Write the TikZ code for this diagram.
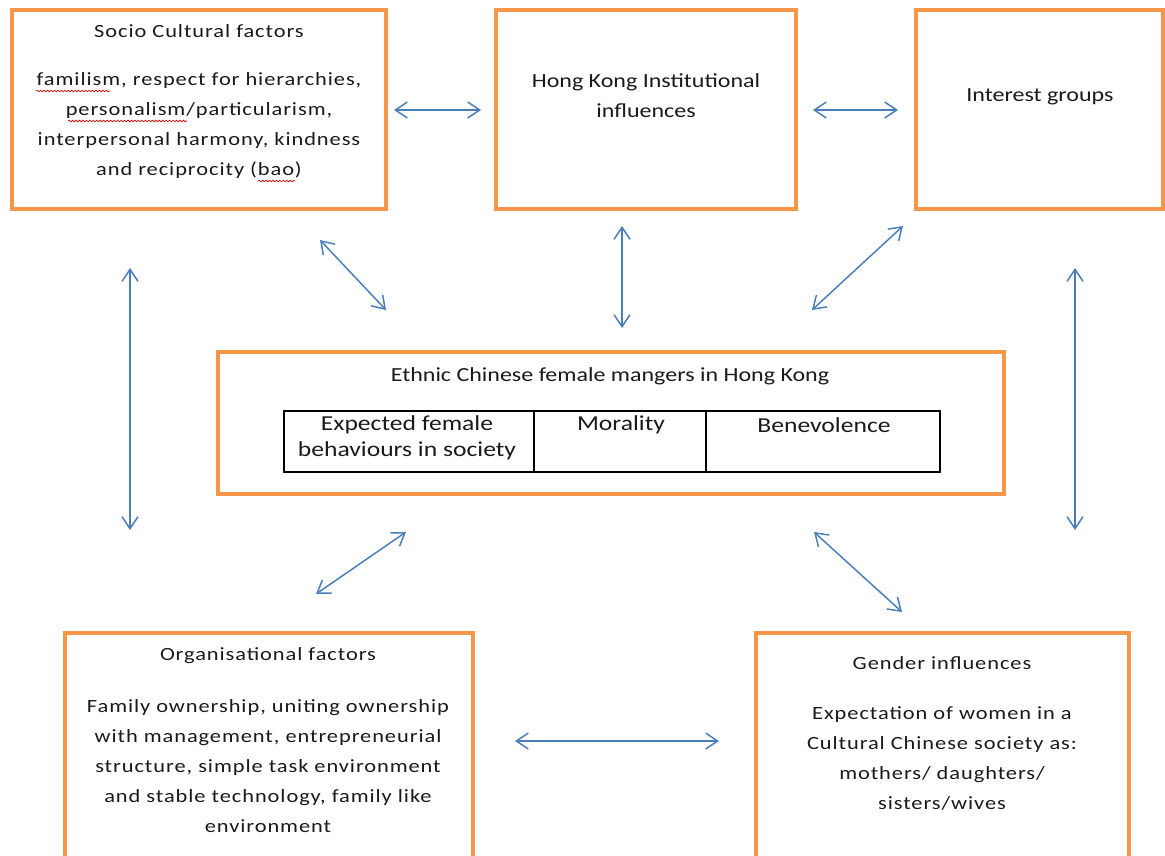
\documentclass[tikz,border=0pt]{standalone}
\usepackage{fontspec}
\setmainfont{Carlito}[FakeStretch=1.2]
\newfontfamily\widefont{Carlito}[FakeStretch=1.2,LetterSpace=5]
\usetikzlibrary{arrows.meta}
\usetikzlibrary{decorations.pathmorphing}
\definecolor{boxorange}{HTML}{F79646}
\definecolor{linkblue}{HTML}{4A7EBB}
\definecolor{inkgray}{HTML}{1A1A1A}

\begin{document}
\begin{tikzpicture}[x=0.75pt,y=-0.75pt,
  frame/.style={draw=boxorange,line width=2.6pt,inner sep=0pt},
  cell/.style={draw=black,line width=0.8pt,inner sep=0pt,minimum height=45.75pt},
  link/.style={linkblue,line width=1.1pt,{Straight Barb[length=9pt,width=12pt]}-{Straight Barb[length=9pt,width=12pt]}},
  txt/.style={text=inkgray,align=center,font=\fontsize{14}{22.5}\selectfont\widefont},
  plain/.style={text=inkgray,align=center,font=\fontsize{15}{22.5}\selectfont},
  celltxt/.style={text=inkgray,align=center,font=\fontsize{16}{19.5}\selectfont},
  spell/.style={red!85!black,line width=0.5pt,decorate,decoration={snake,amplitude=0.6pt,segment length=2.6pt}}]

\useasboundingbox (0,0) rectangle (1165,856);

% boxes
\node (socio) [frame,minimum width=280.5pt,minimum height=149.25pt] at (199,109.5) {};
\node (hk) [frame,minimum width=225pt,minimum height=149.25pt] at (646,109.5) {};
\node (interest) [frame,minimum width=185.25pt,minimum height=149.25pt] at (1039.5,109.5) {};
\node (mgr) [frame,minimum width=589.5pt,minimum height=106.5pt] at (611,423) {};
\node (org) [frame,minimum width=306pt,minimum height=168.75pt] at (269,745.5) {};
\node (gender) [frame,minimum width=279.75pt,minimum height=168.75pt] at (942.5,745.5) {};

% table inside the centre box
\node (cellA) [cell,minimum width=187.5pt] at (409,441.5) {};
\node (cellB) [cell,minimum width=129pt] at (620,441.5) {};
\node (cellC) [cell,minimum width=175.5pt] at (823,441.5) {};

% texts
\node (sociohead) [txt] at (199,31) {Socio Cultural factors};
\node (sociobody) [txt] at (199,125.5) {familism, respect for hierarchies,\\personalism/particularism,\\interpersonal harmony, kindness\\and reciprocity (bao)};
\node (hktext) [plain] at (646,96) {Hong Kong Institutional\\influences};
\node (interesttext) [plain] at (1040,97) {Interest groups};
\node (mgrtext) [plain] at (610,376) {Ethnic Chinese female mangers in Hong Kong};
\node (cellAtext) [celltxt] at (407,438) {Expected female\\behaviours in society};
\node (cellBtext) [celltxt] at (621,425) {Morality};
\node (cellCtext) [celltxt] at (824,425) {Benevolence};
\node (orghead) [txt] at (268,656) {Organisational factors};
\node (orgbody) [txt] at (268,766) {Family ownership, uniting ownership\\with management, entrepreneurial\\structure, simple task environment\\and stable technology, family like\\environment};
\node (genderhead) [txt] at (942,663) {Gender influences};
\node (genderbody) [txt] at (942,758) {Expectation of women in a\\Cultural Chinese society as:\\mothers/ daughters/\\sisters/wives};

% spelling marks
\draw[spell] (36,91) -- (110,91);
\draw[spell] (68,121) -- (187,121);
\draw[spell] (258,181) -- (295,181);

% arrow ends
\coordinate (a1) at (394,110);  \coordinate (b1) at (481,110);
\coordinate (a2) at (813,110);  \coordinate (b2) at (898,110);
\coordinate (a3) at (320,240);  \coordinate (b3) at (386,310);
\coordinate (a4) at (622,226);  \coordinate (b4) at (622,328);
\coordinate (a5) at (903,226);  \coordinate (b5) at (812,310);
\coordinate (a6) at (130,268);  \coordinate (b6) at (130,530);
\coordinate (a7) at (1075,268); \coordinate (b7) at (1075,530);
\coordinate (a8) at (406,532);  \coordinate (b8) at (316,594);
\coordinate (a9) at (814,532);  \coordinate (b9) at (902,612);
\coordinate (a10) at (515,741); \coordinate (b10) at (719,741);

\foreach \i in {1,...,10}
  \draw[link] (a\i) -- (b\i);

\end{tikzpicture}
\end{document}
